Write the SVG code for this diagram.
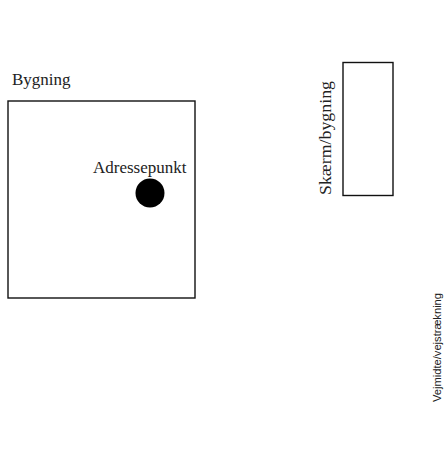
<svg xmlns="http://www.w3.org/2000/svg" width="446" height="450" viewBox="0 0 446 450">
<style>
.serif{font-family:"Liberation Serif","Times New Roman",serif;fill:#222;font-size:17px}
.sans{font-family:"Liberation Sans",Arial,sans-serif;fill:#222}
.box{fill:#fff;stroke:#111;stroke-width:1.4}
</style>
<rect width="446" height="450" fill="#fff"/>
<g id="bygning">
<text class="serif" x="12" y="85">Bygning</text>
<rect class="box" x="8" y="101" width="187" height="197"/>
</g>
<g id="adressepunkt">
<text class="serif" x="93" y="173">Adressepunkt</text>
<circle cx="150" cy="193" r="14.5" fill="#000"/>
</g>
<g id="skaerm">
<rect class="box" x="343" y="62.5" width="50" height="133"/>
<text class="serif" x="-195" y="331" textLength="114" lengthAdjust="spacingAndGlyphs" transform="rotate(-90)">Skærm/bygning</text>
</g>
<g id="vejmidte">
<text class="sans" x="-402" y="441" font-size="11.5" textLength="109" lengthAdjust="spacingAndGlyphs" transform="rotate(-90)">Vejmidte/vejstrækning</text>
</g>
<g id="connectors"></g>
</svg>
